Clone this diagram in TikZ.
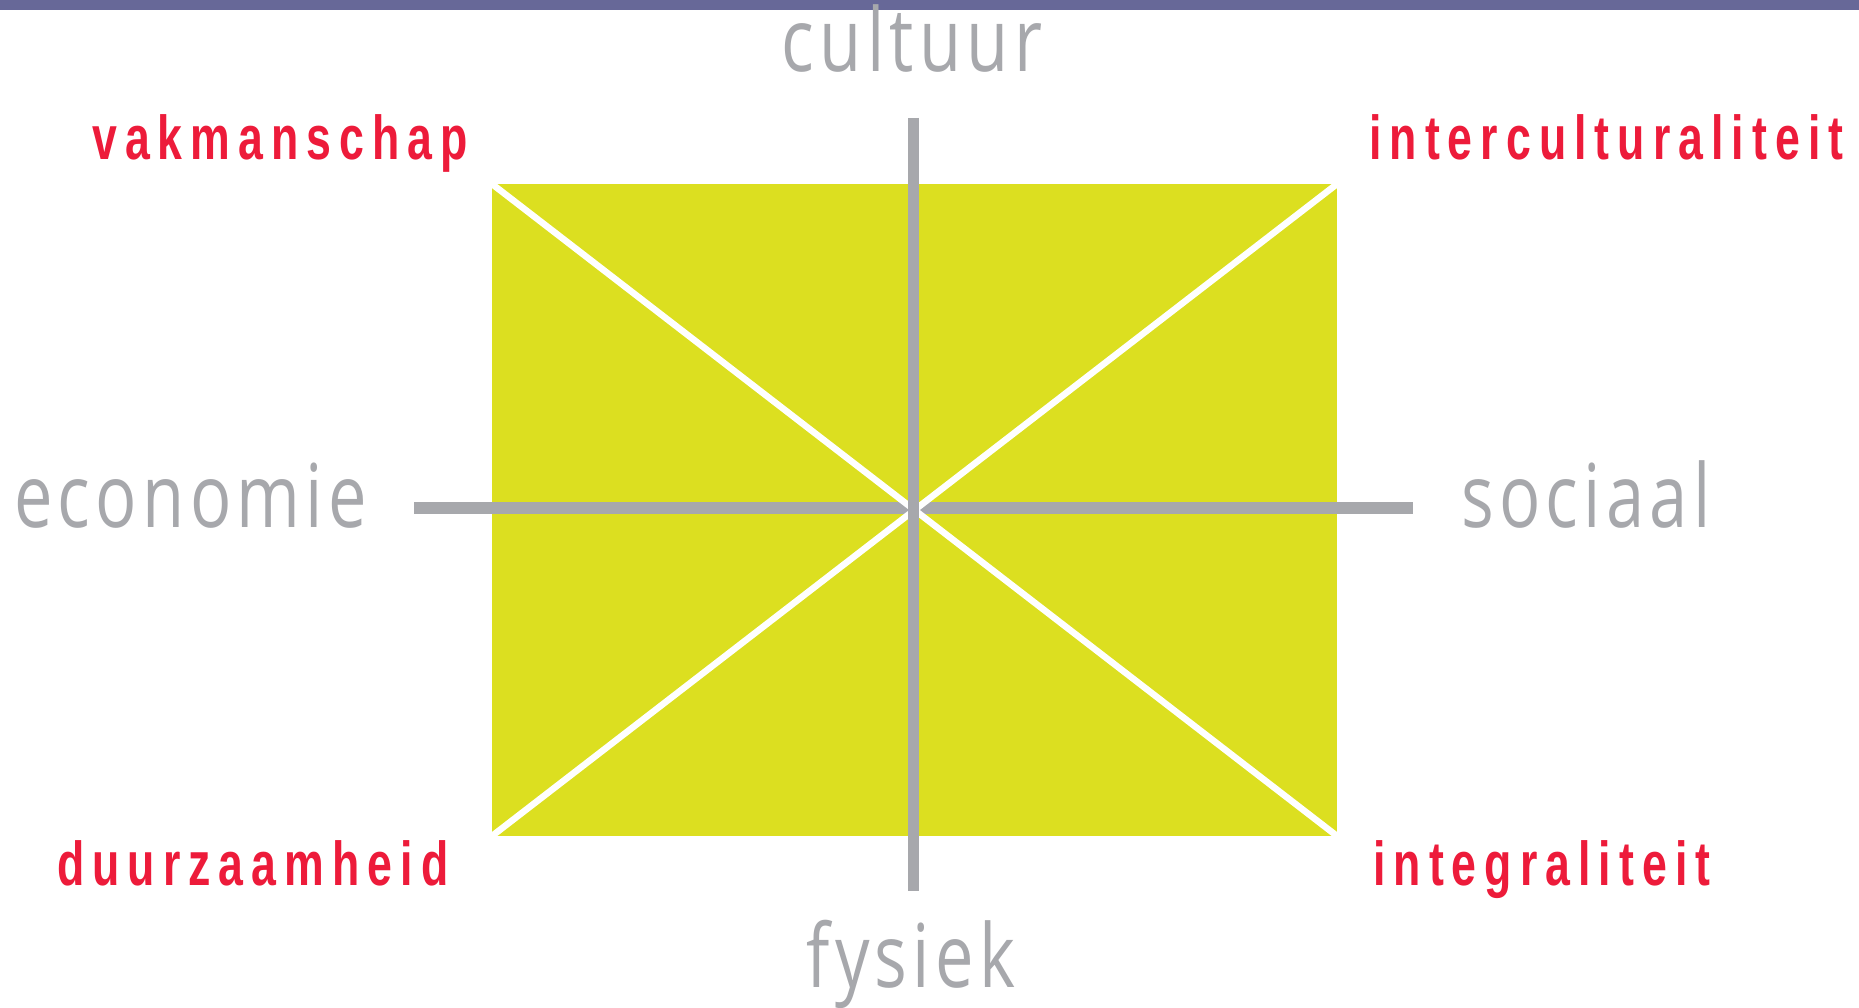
\documentclass[tikz,border=0pt]{standalone}
\usepackage{fontspec}
\newfontfamily\axisfont[FakeStretch=0.78,LetterSpace=6]{Open Sans}
\newfontfamily\valuefont[FakeStretch=0.72,LetterSpace=13]{Liberation Sans}
\definecolor{barcol}{RGB}{103,104,152}
\definecolor{fieldcol}{RGB}{220,223,32}
\definecolor{axiscol}{RGB}{167,168,172}
\definecolor{valuecol}{RGB}{237,27,58}
\tikzset{
  axislabel/.style={inner sep=0pt, text=axiscol, font=\axisfont\fontsize{88}{88}\selectfont},
  valuelabel/.style={inner sep=0pt, text=valuecol, font=\valuefont\bfseries\fontsize{62}{62}\selectfont},
  axisline/.style={draw=axiscol, line width=11.5pt},
  diagline/.style={draw=white, line width=6.5pt}
}
\begin{document}
\begin{tikzpicture}[x=1pt,y=-1pt]
\useasboundingbox (0,0) rectangle (1859,1008);
\fill[white] (0,0) rectangle (1859,1008);
\fill[barcol] (0,0) rectangle (1859,10);
% field
\fill[fieldcol] (492,184) rectangle (1337,836);
\coordinate (tl) at (492,184);
\coordinate (tr) at (1337,184);
\coordinate (bl) at (492,836);
\coordinate (br) at (1337,836);
\coordinate (axL) at (414,508);
\coordinate (axR) at (1413,508);
\coordinate (axT) at (913.5,118);
\coordinate (axB) at (913.5,891);
\draw[axisline] (axL) -- (axR);
\begin{scope}
\clip (tl) rectangle (br);
\draw[diagline] (tl) -- (br);
\draw[diagline] (tr) -- (bl);
\end{scope}
\draw[axisline] (axT) -- (axB);
% axis labels
\node[axislabel, anchor=base] (cultuur) at (912,72) {cultuur};
\node[axislabel, anchor=base] (fysiek) at (911,987) {fysiek};
\node[axislabel, anchor=base west] (economie) at (14,527) {economie};
\node[axislabel, anchor=base west] (sociaal) at (1461,527) {sociaal};
% value labels
\node[valuelabel, anchor=base west] (vak) at (92,160) {vakmanschap};
\node[valuelabel, anchor=base west] (inter) at (1369,160) {interculturaliteit};
\node[valuelabel, anchor=base west] (duur) at (57,885) {duurzaamheid};
\node[valuelabel, anchor=base west] (integ) at (1373,885) {integraliteit};
\end{tikzpicture}
\end{document}
